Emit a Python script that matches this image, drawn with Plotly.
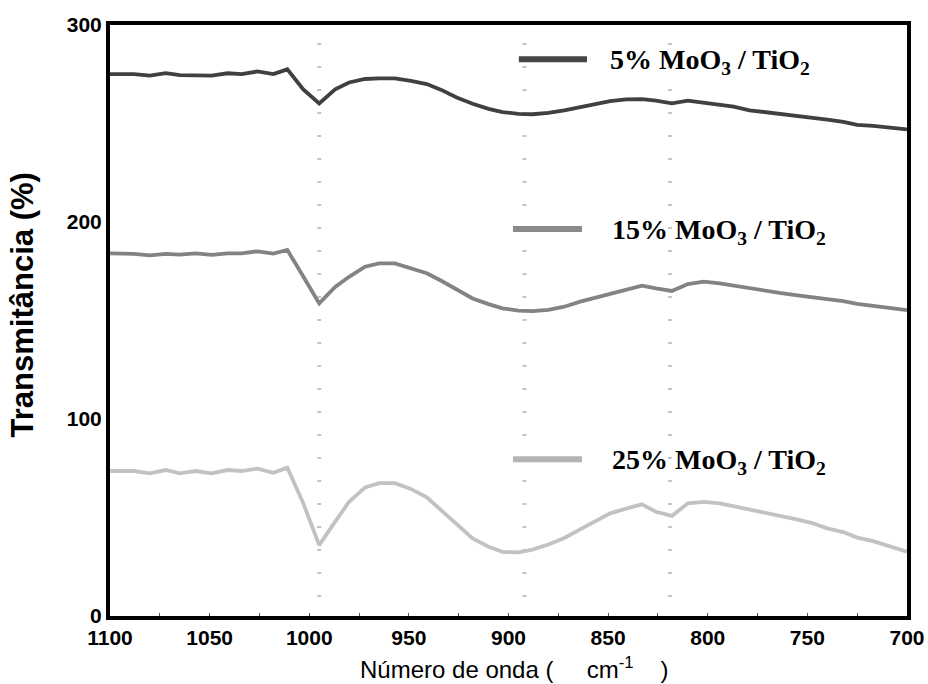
import plotly.graph_objects as go

# Wavenumber grid (cm^-1)
wavenumber = [1100, 1088, 1080, 1072, 1065, 1057, 1049, 1041, 1034, 1026, 1018, 1011,
              1003, 995, 987, 980, 972, 965, 957, 949, 941, 934, 926, 918, 910, 903,
              895, 888, 880, 872, 864, 857, 849, 841, 833, 826, 818, 810, 802, 794,
              787, 779, 771, 764, 756, 748, 740, 732, 725, 717, 709, 700]

# Transmittance (%) of each sample (offset spectra)
t_5 = [275.1, 275.1, 274.3, 275.6, 274.6, 274.6, 274.3, 275.5, 275.1, 276.4, 275.1, 277.5,
       267.3, 260.2, 267.3, 270.8, 272.6, 272.9, 272.9, 271.6, 270.0, 267.2, 263.2, 260.0,
       257.4, 255.8, 254.9, 254.7, 255.4, 256.7, 258.5, 260.0, 261.4, 262.2, 262.4, 261.6,
       260.2, 261.6, 260.6, 259.7, 258.6, 256.7, 255.8, 255.1, 254.2, 253.2, 252.0, 250.8,
       249.3, 248.8, 248.0, 247.0]
t_15 = [184.1, 183.8, 183.1, 183.8, 183.4, 184.1, 183.3, 184.1, 184.1, 185.1, 184.0, 185.8,
        172.3, 158.7, 167.0, 172.2, 177.3, 179.0, 179.0, 176.5, 174.0, 170.3, 165.8, 161.2,
        158.3, 156.2, 155.0, 154.8, 155.4, 157.0, 159.6, 161.5, 163.8, 165.9, 167.7, 166.3,
        165.0, 168.5, 169.7, 168.9, 167.7, 166.4, 165.1, 164.0, 162.9, 162.0, 160.8, 159.8,
        158.4, 157.4, 156.3, 155.3]
t_25 = [73.6, 73.6, 72.4, 74.1, 72.4, 73.6, 72.4, 74.1, 73.6, 74.8, 72.7, 75.3,
        57.2, 36.0, 47.9, 58.0, 65.3, 67.4, 67.4, 64.5, 60.2, 54.0, 46.5, 39.4,
        35.2, 32.6, 32.3, 33.7, 36.3, 39.6, 44.0, 48.0, 52.1, 54.5, 56.7, 52.9,
        50.8, 57.2, 57.9, 57.2, 55.8, 54.2, 52.5, 50.8, 49.2, 47.3, 44.5, 42.6,
        39.8, 38.0, 35.3, 32.6]

series_names = ["5% MoO<sub>3</sub> / TiO<sub>2</sub>",
                "15% MoO<sub>3</sub> / TiO<sub>2</sub>",
                "25% MoO<sub>3</sub> / TiO<sub>2</sub>"]
series_values = [t_5, t_15, t_25]
series_colors = ["#404040", "#838383", "#c2c2c2"]
key_colors = ["#464646", "#8a8a8a", "#b4b4b4"]

# Band positions marked with dotted guides
band_positions = [995, 892, 819]

x_ticks = [1100, 1050, 1000, 950, 900, 850, 800, 750, 700]
y_ticks = [0, 100, 200, 300]

sp = "\u00a0"
x_title = "Número de onda (" + sp * 5 + "cm<sup>-1</sup>" + sp * 4 + ")"
y_title = "<b>Transmitância (%)</b>"

fig = go.Figure()
for name, vals, col in zip(series_names, series_values, series_colors):
    fig.add_trace(go.Scatter(x=wavenumber, y=vals, mode="lines", name=name,
                             line=dict(color=col, width=3.8), showlegend=False))

shapes = []
for b in band_positions:
    shapes.append(dict(type="line", xref="x", yref="y", x0=b, x1=b, y0=-2, y1=300,
                       line=dict(color="#c4c4c4", width=4, dash="2px,21px"),
                       layer="below"))

# In-plot key: a line sample beside each label
key_rows = [(0.513, 0.5985, 0.942, 0.6248),
            (0.5056, 0.5922, 0.6548, 0.6274),
            (0.5056, 0.5922, 0.2651, 0.6274)]
annotations = []
for (x0, x1, yk, xt), name, col in zip(key_rows, series_names, key_colors):
    shapes.append(dict(type="line", xref="paper", yref="paper", x0=x0, x1=x1,
                       y0=yk, y1=yk, line=dict(color=col, width=6)))
    annotations.append(dict(xref="paper", yref="paper", x=xt, y=yk, xanchor="left",
                            yanchor="middle", yshift=-2, showarrow=False,
                            text="<b>%s</b>" % name,
                            font=dict(family="Liberation Serif, Times New Roman, serif",
                                      size=28, color="black")))

# Axis titles
annotations.append(dict(xref="paper", yref="paper", x=0.311, y=-0.088,
                        xanchor="left", yanchor="middle", showarrow=False,
                        text=x_title, font=dict(size=24, color="black")))
annotations.append(dict(xref="paper", yref="paper", x=-0.11, y=0.526,
                        xanchor="center", yanchor="middle", showarrow=False,
                        textangle=-90, text=y_title,
                        font=dict(size=31, color="black")))

fig.update_layout(
    width=928, height=684,
    margin=dict(l=110, r=21, t=25, b=68),
    paper_bgcolor="white", plot_bgcolor="white",
    shapes=shapes, annotations=annotations,
    font=dict(family="Arial, Liberation Sans, sans-serif", color="black"),
    xaxis=dict(range=[1100, 700], tickvals=x_ticks, automargin=False,
               ticktext=["<b>%d</b>" % v for v in x_ticks],
               tickfont=dict(size=21), showgrid=False, zeroline=False,
               showline=True, linecolor="black", linewidth=4, mirror=True,
               ticks="inside", ticklen=3, tickcolor="#555", tickwidth=1,
               minor=dict(dtick=25, ticks="inside", ticklen=3, tickcolor="#555")),
    yaxis=dict(range=[0, 300], tickvals=y_ticks, automargin=False,
               ticktext=["<b>%d</b>" % v for v in y_ticks],
               tickfont=dict(size=21), showgrid=False, zeroline=False,
               showline=True, linecolor="black", linewidth=4, mirror=True,
               ticks=""),
)

fig.write_html("out.html")
